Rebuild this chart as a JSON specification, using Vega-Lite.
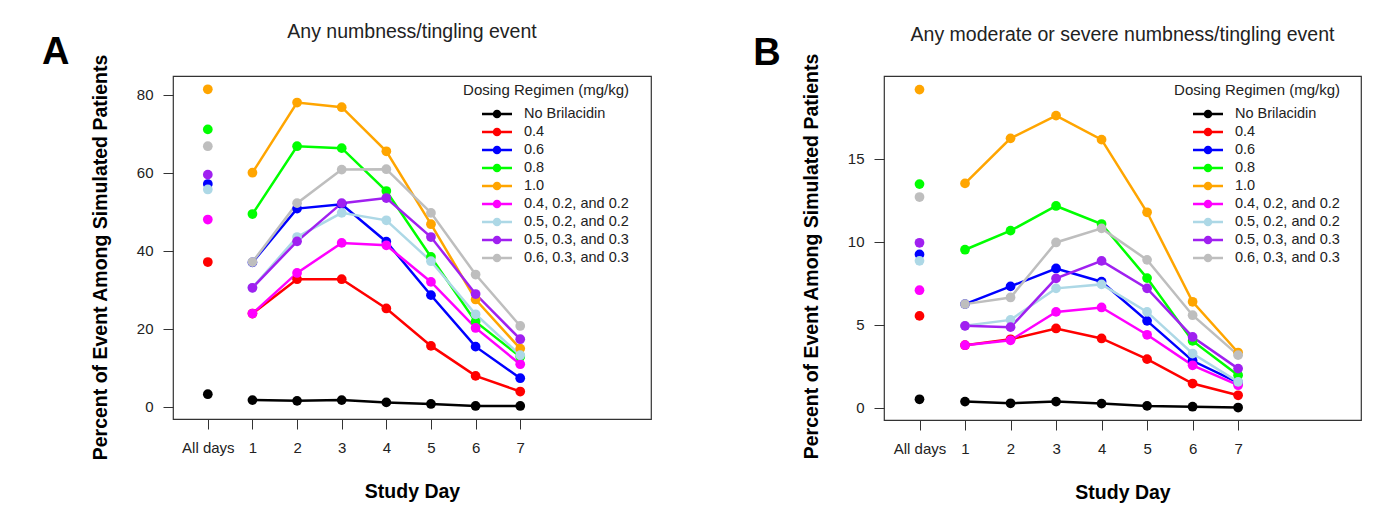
{
  "$schema": "https://vega.github.io/schema/vega-lite/v6.json",
  "background": "white",
  "padding": {"left": 41, "top": 21, "right": 20, "bottom": 5},
  "bounds": "flush",
  "spacing": 233,
  "config": {
    "font": "Liberation Sans",
    "view": {"stroke": "#333", "strokeWidth": 1.2},
    "axis": {"grid": false, "domain": false, "tickColor": "#333", "tickSize": 10, "tickWidth": 1, "labelFontSize": 15, "labelColor": "#222", "titleFontSize": 19.5, "titleFontWeight": "bold", "titleColor": "#000", "labelFont": "Liberation Sans", "titleFont": "Liberation Sans"},
    "legend": {"padding": 0}
  },
  "resolve": {"legend": {"color": "independent"}},
  "datasets": {
    "A": [
      {"regimen": "No Brilacidin", "day": 0, "pct": 3.2}, {"regimen": "No Brilacidin", "day": 1, "pct": 1.7}, {"regimen": "No Brilacidin", "day": 2, "pct": 1.5}, {"regimen": "No Brilacidin", "day": 3, "pct": 1.7}, {"regimen": "No Brilacidin", "day": 4, "pct": 1.1}, {"regimen": "No Brilacidin", "day": 5, "pct": 0.7}, {"regimen": "No Brilacidin", "day": 6, "pct": 0.2}, {"regimen": "No Brilacidin", "day": 7, "pct": 0.2},
      {"regimen": "0.4", "day": 0, "pct": 37.1}, {"regimen": "0.4", "day": 1, "pct": 23.9}, {"regimen": "0.4", "day": 2, "pct": 32.7}, {"regimen": "0.4", "day": 3, "pct": 32.7}, {"regimen": "0.4", "day": 4, "pct": 25.2}, {"regimen": "0.4", "day": 5, "pct": 15.6}, {"regimen": "0.4", "day": 6, "pct": 7.9}, {"regimen": "0.4", "day": 7, "pct": 3.9},
      {"regimen": "0.6", "day": 0, "pct": 57.1}, {"regimen": "0.6", "day": 1, "pct": 37.0}, {"regimen": "0.6", "day": 2, "pct": 50.8}, {"regimen": "0.6", "day": 3, "pct": 51.9}, {"regimen": "0.6", "day": 4, "pct": 42.3}, {"regimen": "0.6", "day": 5, "pct": 28.6}, {"regimen": "0.6", "day": 6, "pct": 15.4}, {"regimen": "0.6", "day": 7, "pct": 7.3},
      {"regimen": "0.8", "day": 0, "pct": 71.1}, {"regimen": "0.8", "day": 1, "pct": 49.4}, {"regimen": "0.8", "day": 2, "pct": 66.8}, {"regimen": "0.8", "day": 3, "pct": 66.3}, {"regimen": "0.8", "day": 4, "pct": 55.3}, {"regimen": "0.8", "day": 5, "pct": 38.4}, {"regimen": "0.8", "day": 6, "pct": 21.8}, {"regimen": "0.8", "day": 7, "pct": 12.8},
      {"regimen": "1.0", "day": 0, "pct": 81.4}, {"regimen": "1.0", "day": 1, "pct": 60.0}, {"regimen": "1.0", "day": 2, "pct": 78.0}, {"regimen": "1.0", "day": 3, "pct": 76.8}, {"regimen": "1.0", "day": 4, "pct": 65.5}, {"regimen": "1.0", "day": 5, "pct": 46.8}, {"regimen": "1.0", "day": 6, "pct": 27.5}, {"regimen": "1.0", "day": 7, "pct": 14.9},
      {"regimen": "0.4, 0.2, and 0.2", "day": 0, "pct": 48.0}, {"regimen": "0.4, 0.2, and 0.2", "day": 1, "pct": 23.9}, {"regimen": "0.4, 0.2, and 0.2", "day": 2, "pct": 34.3}, {"regimen": "0.4, 0.2, and 0.2", "day": 3, "pct": 42.0}, {"regimen": "0.4, 0.2, and 0.2", "day": 4, "pct": 41.4}, {"regimen": "0.4, 0.2, and 0.2", "day": 5, "pct": 32.0}, {"regimen": "0.4, 0.2, and 0.2", "day": 6, "pct": 20.2}, {"regimen": "0.4, 0.2, and 0.2", "day": 7, "pct": 10.9},
      {"regimen": "0.5, 0.2, and 0.2", "day": 0, "pct": 55.7}, {"regimen": "0.5, 0.2, and 0.2", "day": 1, "pct": 30.5}, {"regimen": "0.5, 0.2, and 0.2", "day": 2, "pct": 43.5}, {"regimen": "0.5, 0.2, and 0.2", "day": 3, "pct": 49.7}, {"regimen": "0.5, 0.2, and 0.2", "day": 4, "pct": 47.8}, {"regimen": "0.5, 0.2, and 0.2", "day": 5, "pct": 37.3}, {"regimen": "0.5, 0.2, and 0.2", "day": 6, "pct": 23.7}, {"regimen": "0.5, 0.2, and 0.2", "day": 7, "pct": 13.2},
      {"regimen": "0.5, 0.3, and 0.3", "day": 0, "pct": 59.5}, {"regimen": "0.5, 0.3, and 0.3", "day": 1, "pct": 30.5}, {"regimen": "0.5, 0.3, and 0.3", "day": 2, "pct": 42.4}, {"regimen": "0.5, 0.3, and 0.3", "day": 3, "pct": 52.2}, {"regimen": "0.5, 0.3, and 0.3", "day": 4, "pct": 53.5}, {"regimen": "0.5, 0.3, and 0.3", "day": 5, "pct": 43.5}, {"regimen": "0.5, 0.3, and 0.3", "day": 6, "pct": 28.9}, {"regimen": "0.5, 0.3, and 0.3", "day": 7, "pct": 17.3},
      {"regimen": "0.6, 0.3, and 0.3", "day": 0, "pct": 66.8}, {"regimen": "0.6, 0.3, and 0.3", "day": 1, "pct": 37.1}, {"regimen": "0.6, 0.3, and 0.3", "day": 2, "pct": 52.2}, {"regimen": "0.6, 0.3, and 0.3", "day": 3, "pct": 60.8}, {"regimen": "0.6, 0.3, and 0.3", "day": 4, "pct": 60.9}, {"regimen": "0.6, 0.3, and 0.3", "day": 5, "pct": 49.7}, {"regimen": "0.6, 0.3, and 0.3", "day": 6, "pct": 33.9}, {"regimen": "0.6, 0.3, and 0.3", "day": 7, "pct": 20.7}
    ],
    "B": [
      {"regimen": "No Brilacidin", "day": 0, "pct": 0.50}, {"regimen": "No Brilacidin", "day": 1, "pct": 0.36}, {"regimen": "No Brilacidin", "day": 2, "pct": 0.26}, {"regimen": "No Brilacidin", "day": 3, "pct": 0.36}, {"regimen": "No Brilacidin", "day": 4, "pct": 0.24}, {"regimen": "No Brilacidin", "day": 5, "pct": 0.10}, {"regimen": "No Brilacidin", "day": 6, "pct": 0.05}, {"regimen": "No Brilacidin", "day": 7, "pct": 0.0},
      {"regimen": "0.4", "day": 0, "pct": 5.53}, {"regimen": "0.4", "day": 1, "pct": 3.76}, {"regimen": "0.4", "day": 2, "pct": 4.12}, {"regimen": "0.4", "day": 3, "pct": 4.77}, {"regimen": "0.4", "day": 4, "pct": 4.17}, {"regimen": "0.4", "day": 5, "pct": 2.92}, {"regimen": "0.4", "day": 6, "pct": 1.45}, {"regimen": "0.4", "day": 7, "pct": 0.74},
      {"regimen": "0.6", "day": 0, "pct": 9.24}, {"regimen": "0.6", "day": 1, "pct": 6.24}, {"regimen": "0.6", "day": 2, "pct": 7.31}, {"regimen": "0.6", "day": 3, "pct": 8.39}, {"regimen": "0.6", "day": 4, "pct": 7.59}, {"regimen": "0.6", "day": 5, "pct": 5.23}, {"regimen": "0.6", "day": 6, "pct": 2.82}, {"regimen": "0.6", "day": 7, "pct": 1.5},
      {"regimen": "0.8", "day": 0, "pct": 13.48}, {"regimen": "0.8", "day": 1, "pct": 9.52}, {"regimen": "0.8", "day": 2, "pct": 10.67}, {"regimen": "0.8", "day": 3, "pct": 12.16}, {"regimen": "0.8", "day": 4, "pct": 11.07}, {"regimen": "0.8", "day": 5, "pct": 7.81}, {"regimen": "0.8", "day": 6, "pct": 4.02}, {"regimen": "0.8", "day": 7, "pct": 1.95},
      {"regimen": "1.0", "day": 0, "pct": 19.18}, {"regimen": "1.0", "day": 1, "pct": 13.52}, {"regimen": "1.0", "day": 2, "pct": 16.24}, {"regimen": "1.0", "day": 3, "pct": 17.61}, {"regimen": "1.0", "day": 4, "pct": 16.16}, {"regimen": "1.0", "day": 5, "pct": 11.78}, {"regimen": "1.0", "day": 6, "pct": 6.38}, {"regimen": "1.0", "day": 7, "pct": 3.32},
      {"regimen": "0.4, 0.2, and 0.2", "day": 0, "pct": 7.08}, {"regimen": "0.4, 0.2, and 0.2", "day": 1, "pct": 3.76}, {"regimen": "0.4, 0.2, and 0.2", "day": 2, "pct": 4.06}, {"regimen": "0.4, 0.2, and 0.2", "day": 3, "pct": 5.77}, {"regimen": "0.4, 0.2, and 0.2", "day": 4, "pct": 6.04}, {"regimen": "0.4, 0.2, and 0.2", "day": 5, "pct": 4.39}, {"regimen": "0.4, 0.2, and 0.2", "day": 6, "pct": 2.55}, {"regimen": "0.4, 0.2, and 0.2", "day": 7, "pct": 1.35},
      {"regimen": "0.5, 0.2, and 0.2", "day": 0, "pct": 8.85}, {"regimen": "0.5, 0.2, and 0.2", "day": 1, "pct": 4.93}, {"regimen": "0.5, 0.2, and 0.2", "day": 2, "pct": 5.29}, {"regimen": "0.5, 0.2, and 0.2", "day": 3, "pct": 7.19}, {"regimen": "0.5, 0.2, and 0.2", "day": 4, "pct": 7.43}, {"regimen": "0.5, 0.2, and 0.2", "day": 5, "pct": 5.77}, {"regimen": "0.5, 0.2, and 0.2", "day": 6, "pct": 3.26}, {"regimen": "0.5, 0.2, and 0.2", "day": 7, "pct": 1.55},
      {"regimen": "0.5, 0.3, and 0.3", "day": 0, "pct": 9.94}, {"regimen": "0.5, 0.3, and 0.3", "day": 1, "pct": 4.93}, {"regimen": "0.5, 0.3, and 0.3", "day": 2, "pct": 4.85}, {"regimen": "0.5, 0.3, and 0.3", "day": 3, "pct": 7.79}, {"regimen": "0.5, 0.3, and 0.3", "day": 4, "pct": 8.85}, {"regimen": "0.5, 0.3, and 0.3", "day": 5, "pct": 7.19}, {"regimen": "0.5, 0.3, and 0.3", "day": 6, "pct": 4.26}, {"regimen": "0.5, 0.3, and 0.3", "day": 7, "pct": 2.35},
      {"regimen": "0.6, 0.3, and 0.3", "day": 0, "pct": 12.70}, {"regimen": "0.6, 0.3, and 0.3", "day": 1, "pct": 6.24}, {"regimen": "0.6, 0.3, and 0.3", "day": 2, "pct": 6.64}, {"regimen": "0.6, 0.3, and 0.3", "day": 3, "pct": 9.96}, {"regimen": "0.6, 0.3, and 0.3", "day": 4, "pct": 10.81}, {"regimen": "0.6, 0.3, and 0.3", "day": 5, "pct": 8.91}, {"regimen": "0.6, 0.3, and 0.3", "day": 6, "pct": 5.57}, {"regimen": "0.6, 0.3, and 0.3", "day": 7, "pct": 3.16}
    ]
  },
  "hconcat": [
    {
      "width": 478,
      "height": 343,
      "title": {"text": "Any numbness/tingling event", "frame": "group", "anchor": "middle", "baseline": "alphabetic", "offset": -24, "fontSize": 19.5, "fontWeight": "normal", "color": "#222", "font": "Liberation Sans"},
      "encoding": {
        "x": {"field": "day", "type": "quantitative", "scale": {"domain": [-0.78, 9.93], "nice": false, "zero": false}, "axis": {"values": [0, 1, 2, 3, 4, 5, 6, 7], "labelExpr": "datum.value == 0 ? 'All days' : datum.label", "labelPadding": 11, "title": "Study Day", "titlePadding": 27}},
        "y": {"field": "pct", "type": "quantitative", "scale": {"domain": [-3.15, 84.8], "nice": false, "zero": false}, "axis": {"values": [0, 20, 40, 60, 80], "labelPadding": 10, "title": "Percent of Event Among Simulated Patients", "titlePadding": 26, "titleY": 181}}
      },
      "layer": [
        {
          "data": {"name": "A"},
          "transform": [{"filter": "datum.day > 0"}],
          "mark": {"type": "line", "strokeWidth": 2.5},
          "encoding": {
            "color": {"field": "regimen", "type": "nominal", "sort": ["No Brilacidin", "0.4", "0.6", "0.8", "1.0", "0.4, 0.2, and 0.2", "0.5, 0.2, and 0.2", "0.5, 0.3, and 0.3", "0.6, 0.3, and 0.3"],
              "scale": {"domain": ["No Brilacidin", "0.4", "0.6", "0.8", "1.0", "0.4, 0.2, and 0.2", "0.5, 0.2, and 0.2", "0.5, 0.3, and 0.3", "0.6, 0.3, and 0.3"], "range": ["#000000", "#FF0000", "#0000FF", "#00FF00", "#FFA500", "#FF00FF", "#ADD8E6", "#A020F0", "#BEBEBE"]},
              "legend": {"orient": "none", "legendX": 290, "legendY": 7, "title": "Dosing Regimen (mg/kg)", "titleAnchor": "end", "titleFontSize": 15, "titleFontWeight": "normal", "titleColor": "#222", "titlePadding": 7, "labelFontSize": 14.5, "labelColor": "#222", "symbolType": "M-2,0H2M-0.4,0A0.4,0.4,0,1,0,0.4,0A0.4,0.4,0,1,0,-0.4,0", "symbolSize": 225, "symbolStrokeWidth": 2.5, "rowPadding": 1, "labelOffset": 18,
                "encode": {"symbols": {"update": {"fill": {"scale": "color", "field": "value"}, "stroke": {"scale": "color", "field": "value"}, "size": {"value": 225}, "strokeWidth": {"value": 2.5}}}}}
            }
          }
        },
        {
          "data": {"name": "A"},
          "mark": {"type": "point", "filled": true, "size": 95, "opacity": 1},
          "encoding": {
            "color": {"field": "regimen", "type": "nominal", "sort": ["No Brilacidin", "0.4", "0.6", "0.8", "1.0", "0.4, 0.2, and 0.2", "0.5, 0.2, and 0.2", "0.5, 0.3, and 0.3", "0.6, 0.3, and 0.3"]}
          }
        },
        {
          "data": {"values": [{"day": -3.41, "pct": 90.8, "lab": "A"}]},
          "mark": {"type": "text", "fontSize": 38, "fontWeight": "bold", "align": "center", "baseline": "middle", "color": "#000", "font": "Liberation Sans"},
          "encoding": {"text": {"field": "lab"}}
        }
      ]
    },
    {
      "width": 477,
      "height": 344,
      "title": {"text": "Any moderate or severe numbness/tingling event", "frame": "group", "anchor": "middle", "baseline": "alphabetic", "offset": -25, "fontSize": 19.5, "fontWeight": "normal", "color": "#222", "font": "Liberation Sans"},
      "encoding": {
        "x": {"field": "day", "type": "quantitative", "scale": {"domain": [-0.78, 9.7], "nice": false, "zero": false}, "axis": {"values": [0, 1, 2, 3, 4, 5, 6, 7], "labelExpr": "datum.value == 0 ? 'All days' : datum.label", "labelPadding": 11, "title": "Study Day", "titlePadding": 27}},
        "y": {"field": "pct", "type": "quantitative", "scale": {"domain": [-0.75, 20.0], "nice": false, "zero": false}, "axis": {"values": [0, 5, 10, 15], "labelPadding": 10, "title": "Percent of Event Among Simulated Patients", "titlePadding": 26, "titleY": 180}}
      },
      "layer": [
        {
          "data": {"name": "B"},
          "transform": [{"filter": "datum.day > 0"}],
          "mark": {"type": "line", "strokeWidth": 2.5},
          "encoding": {
            "color": {"field": "regimen", "type": "nominal", "sort": ["No Brilacidin", "0.4", "0.6", "0.8", "1.0", "0.4, 0.2, and 0.2", "0.5, 0.2, and 0.2", "0.5, 0.3, and 0.3", "0.6, 0.3, and 0.3"],
              "legend": {"orient": "none", "legendX": 290, "legendY": 7, "title": "Dosing Regimen (mg/kg)", "titleAnchor": "end", "titleFontSize": 15, "titleFontWeight": "normal", "titleColor": "#222", "titlePadding": 7, "labelFontSize": 14.5, "labelColor": "#222", "symbolType": "M-2,0H2M-0.4,0A0.4,0.4,0,1,0,0.4,0A0.4,0.4,0,1,0,-0.4,0", "symbolSize": 225, "symbolStrokeWidth": 2.5, "rowPadding": 1, "labelOffset": 18,
                "encode": {"symbols": {"update": {"fill": {"scale": "color", "field": "value"}, "stroke": {"scale": "color", "field": "value"}, "size": {"value": 225}, "strokeWidth": {"value": 2.5}}}}}
            }
          }
        },
        {
          "data": {"name": "B"},
          "mark": {"type": "point", "filled": true, "size": 95, "opacity": 1},
          "encoding": {
            "color": {"field": "regimen", "type": "nominal", "sort": ["No Brilacidin", "0.4", "0.6", "0.8", "1.0", "0.4, 0.2, and 0.2", "0.5, 0.2, and 0.2", "0.5, 0.3, and 0.3", "0.6, 0.3, and 0.3"]}
          }
        },
        {
          "data": {"values": [{"day": -3.35, "pct": 21.3, "lab": "B"}]},
          "mark": {"type": "text", "fontSize": 38, "fontWeight": "bold", "align": "center", "baseline": "middle", "color": "#000", "font": "Liberation Sans"},
          "encoding": {"text": {"field": "lab"}}
        }
      ]
    }
  ]
}
